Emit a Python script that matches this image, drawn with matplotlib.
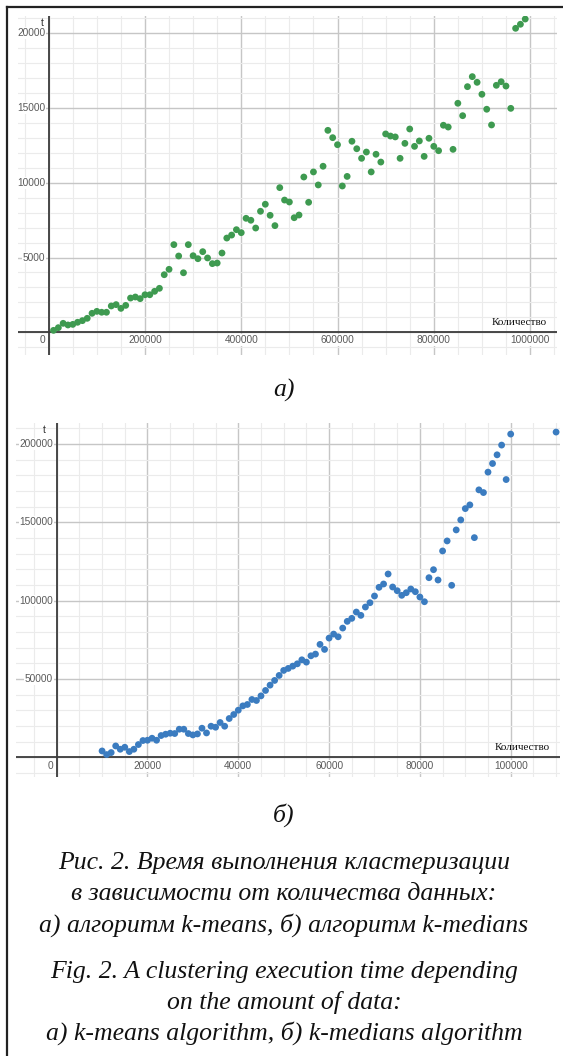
import matplotlib.pyplot as plt
from matplotlib.lines import Line2D
from matplotlib.ticker import MultipleLocator

W, H = 563, 1056

# а) k-means: количество данных (тыс.) и время t
kmeans_n = [10, 20, 30, 40, 50, 60, 70, 80, 90, 100,
            110, 120, 130, 140, 150, 160, 170, 180, 190, 200,
            210, 220, 230, 240, 250, 260, 270, 280, 290, 300,
            310, 320, 330, 340, 350, 360, 370, 380, 390, 400,
            410, 420, 430, 440, 450, 460, 470, 480, 490, 500,
            510, 520, 530, 540, 550, 560, 570, 580, 590, 600,
            610, 620, 630, 640, 650, 660, 670, 680, 690, 700,
            710, 720, 730, 740, 750, 760, 770, 780, 790, 800,
            810, 820, 830, 840, 850, 860, 870, 880, 890, 900,
            910, 920, 930, 940, 950, 960, 970, 980, 990]
kmeans_t = [130, 310, 600, 490, 530, 670, 780, 935, 1270, 1400,
            1340, 1340, 1760, 1850, 1600, 1800, 2290, 2360, 2250, 2510,
            2510, 2740, 2940, 3850, 4210, 5860, 5100, 3980, 5860, 5120,
            4920, 5390, 4970, 4590, 4630, 5300, 6300, 6500, 6860, 6660,
            7620, 7490, 6970, 8090, 8560, 7820, 7130, 9670, 8840, 8710,
            7660, 7840, 10380, 8690, 10720, 9850, 11100, 13500, 13010, 12540,
            9780, 10420, 12770, 12270, 11630, 12050, 10720, 11900, 11380, 13260,
            13120, 13060, 11630, 12630, 13590, 12430, 12790, 11760, 12970, 12430,
            12140, 13840, 13720, 12230, 15310, 14480, 16420, 17090, 16710, 15910,
            14910, 13860, 16510, 16750, 16460, 14970, 20320, 20590, 20940]

# б) k-medians
kmedians_n = [10, 11, 12, 13, 14, 15, 16, 17, 18, 19,
              20, 21, 22, 23, 24, 25, 26, 27, 28, 29,
              30, 31, 32, 33, 34, 35, 36, 37, 38, 39,
              40, 41, 42, 43, 44, 45, 46, 47, 48, 49,
              50, 51, 52, 53, 54, 55, 56, 57, 58, 59,
              60, 61, 62, 63, 64, 65, 66, 67, 68, 69,
              70, 71, 72, 73, 74, 75, 76, 77, 78, 79,
              80, 81, 82, 83, 84, 85, 86, 87, 88, 89,
              90, 91, 92, 93, 94, 95, 96, 97, 98, 99,
              100, 110]
kmedians_t = [4030, 1720, 3000, 7230, 5120, 6390, 3640, 5120, 8120, 10680,
              10870, 12150, 10870, 13870, 14710, 15350, 15150, 17900, 17900, 15150,
              14260, 14900, 18540, 15540, 19820, 19180, 22190, 19820, 24740, 27300,
              30050, 32800, 33700, 36890, 36250, 39200, 42650, 46040, 49040, 52240,
              55440, 56720, 58180, 59660, 62210, 60740, 64770, 65860, 72060, 68860,
              76090, 78640, 76920, 82480, 86770, 88680, 92710, 90600, 95910, 98660,
              102940, 108500, 110610, 117010, 108700, 106330, 103390, 105050, 107420, 105690,
              102300, 99300, 114640, 119760, 113170, 131710, 138110, 109780, 145140, 151530,
              158760, 161120, 140220, 170720, 168990, 182030, 187530, 193090, 199300, 177300,
              206330, 207610]

kmeans_xticks = [200000, 400000, 600000, 800000, 1000000]
kmeans_yticks = [5000, 10000, 15000, 20000]
kmedians_xticks = [20000, 40000, 60000, 80000, 100000]
kmedians_yticks = [50000, 100000, 150000, 200000]

TICK_FONT = 'Liberation Sans'
SERIF = 'Liberation Serif'


def px_rect(left, top, right, bottom):
    return [left / W, 1 - bottom / H, (right - left) / W, (bottom - top) / H]


def panel(ax, x, y, color, xlim, ylim, xstep, ystep, xticks, yticks, off):
    ax.set_xlim(*xlim)
    ax.set_ylim(*ylim)
    ax.xaxis.set_major_locator(MultipleLocator(xstep[0]))
    ax.xaxis.set_minor_locator(MultipleLocator(xstep[1]))
    ax.yaxis.set_major_locator(MultipleLocator(ystep[0]))
    ax.yaxis.set_minor_locator(MultipleLocator(ystep[1]))
    ax.grid(which='major', color='#c6c6c6', lw=1.0)
    ax.grid(which='minor', color='#ebebeb', lw=0.8)
    ax.set_axisbelow(True)
    ax.tick_params(which='both', length=0, labelbottom=False, labelleft=False)
    for s in ax.spines.values():
        s.set_visible(False)
    ax.axhline(0, color='#3c3c3c', lw=1.3, zorder=2)
    ax.axvline(0, color='#3c3c3c', lw=1.3, zorder=2)

    ax.scatter(x, y, s=24, color=color, edgecolors='none', zorder=3)

    box = dict(facecolor='white', edgecolor='none', pad=0.6)
    for v in xticks:
        ax.annotate(str(v), xy=(v, 0), xytext=(0, -off[0]), textcoords='offset points',
                    ha='center', va='center', fontsize=7.3, color='#5a5a5a',
                    family=TICK_FONT, bbox=box, zorder=4)
    for v in yticks:
        ax.annotate(str(v), xy=(0, v), xytext=(-off[1], 0), textcoords='offset points',
                    ha='right', va='center', fontsize=7.3, color='#5a5a5a',
                    family=TICK_FONT, bbox=box, zorder=4)
    ax.annotate('0', xy=(0, 0), xytext=(-4.5, -off[0]), textcoords='offset points',
                ha='center', va='center', fontsize=7.3, color='#5a5a5a',
                family=TICK_FONT, bbox=box, zorder=4)
    ax.annotate('t', xy=(0, 1), xycoords=('data', 'axes fraction'),
                xytext=(-off[2], -5), textcoords='offset points',
                ha='center', va='center', fontsize=7.5, color='#333333', family=TICK_FONT)
    ax.annotate('Количество', xy=(1, 0), xycoords=('axes fraction', 'data'),
                xytext=(-7, 7), textcoords='offset points',
                ha='right', va='center', fontsize=8, color='#111111', family=SERIF)


fig = plt.figure(figsize=(W / 100, H / 100), dpi=100)

ax1 = fig.add_axes(px_rect(18, 16, 557, 355))
panel(ax1, [n * 1000 for n in kmeans_n], kmeans_t, '#3e9a50',
      (-63800, 1056000), (-1517, 21143), (200000, 50000), (5000, 1000),
      kmeans_xticks, kmeans_yticks, (5.6, 2.6, 4.8))

ax2 = fig.add_axes(px_rect(16, 423, 560, 777))
panel(ax2, [n * 1000 for n in kmedians_n], kmedians_t, '#3b7cc0',
      (-8960, 110860), (-12600, 213400), (20000, 5000), (50000, 10000),
      kmedians_xticks, kmedians_yticks, (6.3, 2.6, 9.0))

# подписи
cap = dict(ha='center', va='center', fontsize=18.5, style='italic', family=SERIF, color='#111111')
fig.text(284 / W, 1 - 390 / H, 'а)', **cap)
fig.text(284 / W, 1 - 815 / H, 'б)', **cap)
lines = [('Рис. 2. Время выполнения кластеризации', 863),
         ('в зависимости от количества данных:', 894),
         ('а) алгоритм k-means, б) алгоритм k-medians', 925),
         ('Fig. 2. A clustering execution time depending', 972),
         ('on the amount of data:', 1002),
         ('а) k-means algorithm, б) k-medians algorithm', 1033)]
for txt, yy in lines:
    fig.text(284 / W, 1 - yy / H, txt, **cap)

# рамка слева и сверху
fig.add_artist(Line2D([7 / W, 7 / W], [0, 1 - 7 / H], transform=fig.transFigure,
                      color='#222222', lw=1.6))
fig.add_artist(Line2D([7 / W, 1], [1 - 7 / H, 1 - 7 / H], transform=fig.transFigure,
                      color='#222222', lw=1.6))

fig.savefig('out.png', dpi=100)
